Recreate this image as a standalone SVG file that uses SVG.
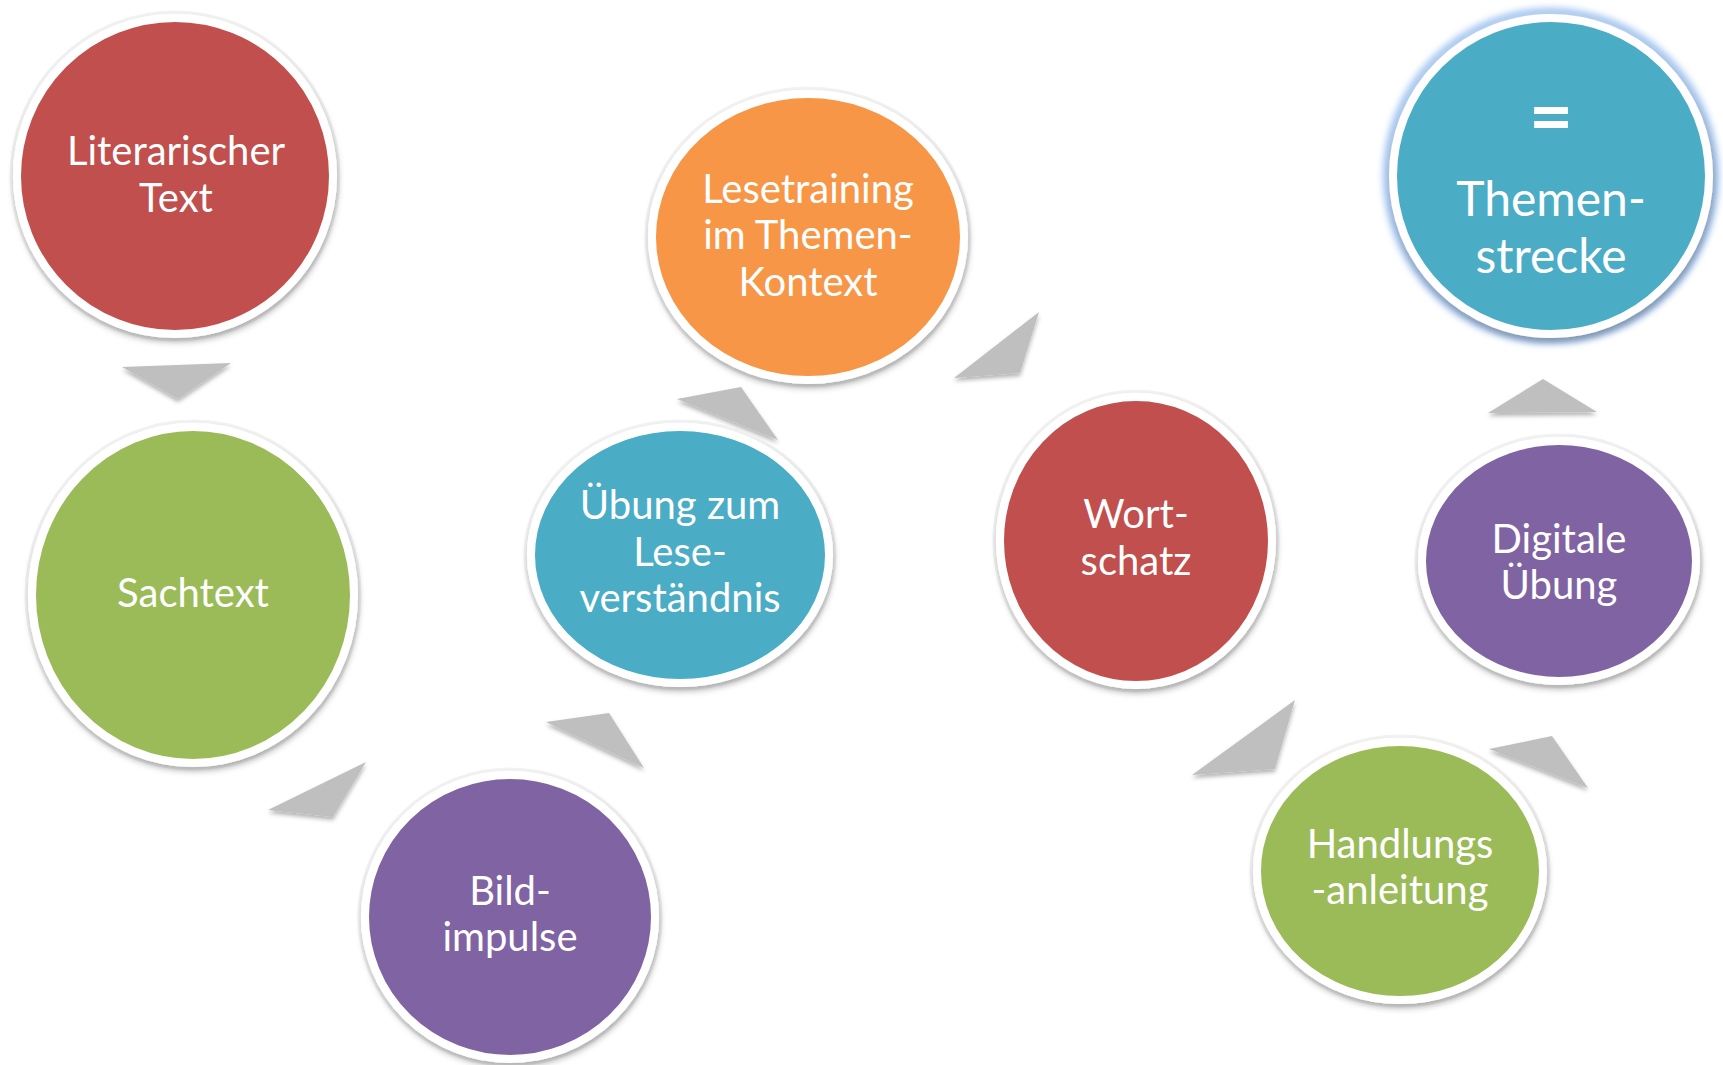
<svg xmlns="http://www.w3.org/2000/svg" width="1723" height="1065" viewBox="0 0 1723 1065">
<defs>
<style>
.ring{stroke:#fff;stroke-width:8;filter:url(#sh)}
.red{fill:#C0504D}.green{fill:#9BBB59}.purple{fill:#8064A2}.blue{fill:#4BACC6}.orange{fill:#F79646}
.halo{fill:none;stroke:#f3f3f3;stroke-width:3}
.t{font-family:Lato,"Open Sans","Liberation Sans",sans-serif;font-size:40px;fill:#fff;text-anchor:middle}
.big{font-size:48px}
.arr{fill:#BFBFBF;filter:url(#ash)}
</style>
<filter id="sh" x="-20%" y="-20%" width="140%" height="140%">
<feDropShadow dx="1" dy="4" stdDeviation="3" flood-color="#000" flood-opacity="0.3"/>
</filter>
<filter id="ash" x="-30%" y="-30%" width="160%" height="160%">
<feDropShadow dx="0" dy="3" stdDeviation="2" flood-color="#000" flood-opacity="0.3"/>
</filter>
<filter id="glow" x="-20%" y="-20%" width="140%" height="140%">
<feGaussianBlur stdDeviation="3"/>
</filter>
</defs>
<rect width="1723" height="1065" fill="#fff"/>

<g id="connectors">
<polygon class="arr" points="122,367 231,363 178,399"/>
<polygon class="arr" points="366,762 268,810 333,817"/>
<polygon class="arr" points="546,722 609,713 644,768"/>
<polygon class="arr" points="677,399 741,387 778,440"/>
<polygon class="arr" points="1039,312 954,378 1020,373"/>
<polygon class="arr" points="1295,700 1192,775 1275,769"/>
<polygon class="arr" points="1489,749 1552,736 1588,788"/>
<polygon class="arr" points="1488,413 1543,379 1597,412"/>
</g>

<g id="n1">
<ellipse class="halo" cx="175" cy="176" rx="164" ry="164"/>
<ellipse class="ring red" cx="175" cy="176" rx="158" ry="158"/>
<text class="t" x="176" y="165">Literarischer</text>
<text class="t" x="176" y="212">Text</text>
</g>

<g id="n2">
<ellipse class="halo" cx="193" cy="595" rx="167" ry="174"/>
<ellipse class="ring green" cx="193" cy="595" rx="161" ry="168"/>
<text class="t" x="193" y="607">Sachtext</text>
</g>

<g id="n3">
<ellipse class="halo" cx="510" cy="917" rx="151" ry="148"/>
<ellipse class="ring purple" cx="510" cy="917" rx="145" ry="142"/>
<text class="t" x="510" y="905">Bild-</text>
<text class="t" x="510" y="951">impulse</text>
</g>

<g id="n4">
<ellipse class="halo" cx="680" cy="555" rx="155" ry="134"/>
<ellipse class="ring blue" cx="680" cy="555" rx="149" ry="128"/>
<text class="t" x="680" y="519">Übung zum</text>
<text class="t" x="680" y="566">Lese-</text>
<text class="t" x="680" y="612">verständnis</text>
</g>

<g id="n5">
<ellipse class="halo" cx="808" cy="237" rx="162" ry="149"/>
<ellipse class="ring orange" cx="808" cy="237" rx="156" ry="143"/>
<text class="t" x="808" y="203">Lesetraining</text>
<text class="t" x="808" y="249">im Themen-</text>
<text class="t" x="808" y="296">Kontext</text>
</g>

<g id="n6">
<ellipse class="halo" cx="1136" cy="541" rx="142" ry="150"/>
<ellipse class="ring red" cx="1136" cy="541" rx="136" ry="144"/>
<text class="t" x="1136" y="528">Wort-</text>
<text class="t" x="1136" y="575">schatz</text>
</g>

<g id="n7">
<ellipse class="halo" cx="1400" cy="871" rx="149" ry="135"/>
<ellipse class="ring green" cx="1400" cy="871" rx="143" ry="129"/>
<text class="t" x="1400" y="858">Handlungs</text>
<text class="t" x="1400" y="904">-anleitung</text>
</g>

<g id="n8">
<ellipse class="halo" cx="1559" cy="561" rx="143" ry="126"/>
<ellipse class="ring purple" cx="1559" cy="561" rx="137" ry="120"/>
<text class="t" x="1559" y="553">Digitale</text>
<text class="t" x="1559" y="599">Übung</text>
</g>

<g id="n9">
<ellipse cx="1551" cy="176" rx="164" ry="164" fill="none" stroke="#A9C9F2" stroke-width="9" filter="url(#glow)"/>
<ellipse class="ring blue" cx="1551" cy="176" rx="158" ry="158"/>
<text class="t" x="1551" y="144" style="font-size:76px;font-weight:bold">=</text>
<text class="t big" x="1551" y="216">Themen-</text>
<text class="t big" x="1551" y="273">strecke</text>
</g>
</svg>
